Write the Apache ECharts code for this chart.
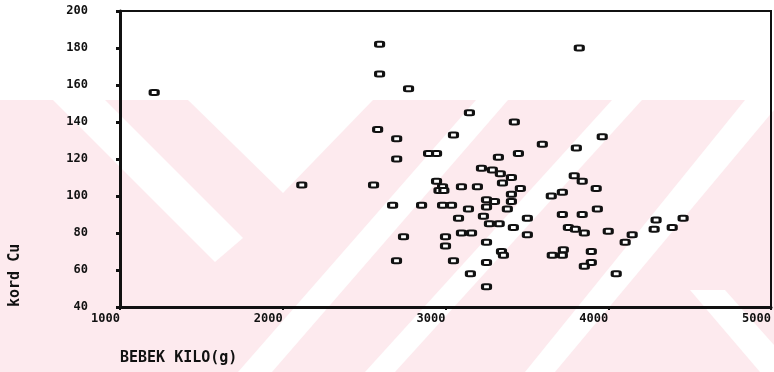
<!DOCTYPE html>
<html>
<head>
<meta charset="utf-8">
<script src="https://cdn.jsdelivr.net/npm/echarts@6/dist/echarts.min.js"></script>
<style>
  html, body { margin: 0; padding: 0; background: #fff; }
  #main { width: 774px; height: 372px; }
</style>
</head>
<body>
<div id="main"></div>
<script>
// bebek kilosu (g) ve kord Cu degerleri
var kilo = [1210, 2117, 2558, 2595, 2595, 2583, 2700, 2700, 2773, 3147,
    3423, 3049, 2896, 2945, 3325, 3448, 3595, 3804, 3963, 3822,
    3221, 3288, 3337, 3405, 3350, 2945, 2982, 2960, 2990, 3098,
    3196, 3460, 2675, 2853, 2982, 3037, 3141, 3252, 3301, 3252,
    3405, 3405, 3380, 3233, 3080, 3270, 3330, 3503, 3417, 3503,
    2742, 3000, 3098, 3160, 3000, 3252, 3344, 3356, 2699, 3049,
    3252, 3153, 3252, 3650, 3718, 3718, 3840, 3933, 3755, 3798,
    3853, 4000, 4147, 4104, 4294, 4282, 4393, 4460, 3656, 3724,
    3718, 3896, 3896, 3853, 4049, 3791, 3840, 3926];
var kordCu = [156, 106, 106, 182, 166, 136, 131, 120, 158, 145,
    140, 133, 123, 123, 121, 123, 128, 126, 132, 180,
    115, 114, 112, 110, 107, 108, 105, 103, 103, 105,
    105, 104, 95, 95, 95, 95, 93, 98, 97, 94,
    101, 97, 93, 89, 88, 85, 85, 88, 83, 79,
    78, 78, 80, 80, 73, 75, 70, 68, 65, 65,
    64, 58, 51, 100, 102, 90, 90, 93, 83, 82,
    80, 81, 79, 75, 87, 82, 83, 88, 68, 71,
    68, 70, 64, 62, 58, 111, 108, 104];
var xTicks = [1000, 5000, 1000]; // min, max, aralik
var yTicks = [40, 200, 20];

var noktalar = [];
for (var i = 0; i < kilo.length; i++) {
    noktalar.push([kilo[i], kordCu[i]]);
}

var pembe = '#fdeaee';
var font = 'DejaVu Sans Mono';

var myChart = echarts.init(document.getElementById('main'));
var option = {
    backgroundColor: '#fff',
    animation: false,
    // arkadaki soluk filigran
    graphic: [
        { type: 'rect', z: -10, silent: true, shape: { x: 0, y: 100, width: 774, height: 272 }, style: { fill: pembe } },
        { type: 'polygon', z: -9, silent: true, shape: { points: [[53, 100], [105, 100], [243, 238], [215, 262]] }, style: { fill: '#fff' } },
        { type: 'polygon', z: -9, silent: true, shape: { points: [[188, 100], [373, 100], [283, 193]] }, style: { fill: '#fff' } },
        { type: 'polygon', z: -9, silent: true, shape: { points: [[476, 100], [508, 100], [272, 372], [238, 372]] }, style: { fill: '#fff' } },
        { type: 'polygon', z: -9, silent: true, shape: { points: [[612, 100], [642, 100], [395, 372], [365, 372]] }, style: { fill: '#fff' } },
        { type: 'polygon', z: -9, silent: true, shape: { points: [[745, 100], [774, 100], [774, 110], [555, 372], [525, 372]] }, style: { fill: '#fff' } },
        { type: 'polygon', z: -9, silent: true, shape: { points: [[690, 290], [725, 290], [774, 345], [774, 372], [760, 372]] }, style: { fill: '#fff' } }
    ],
    grid: {
        left: 120, right: 3, top: 11, bottom: 65,
        show: true, borderColor: '#111', borderWidth: 2, backgroundColor: 'transparent'
    },
    xAxis: {
        type: 'value',
        min: xTicks[0], max: xTicks[1], interval: xTicks[2],
        name: 'BEBEK KILO(g)',
        nameLocation: 'start',
        nameGap: 0,
        nameTextStyle: {
            fontFamily: font, fontWeight: 'bold', fontSize: 15, color: '#111',
            align: 'left', verticalAlign: 'top', padding: [44, 0, 0, 0]
        },
        axisLine: { show: true, lineStyle: { color: '#111', width: 3 } },
        axisTick: { show: true, length: 3, lineStyle: { color: '#111', width: 2 } },
        splitLine: { show: false },
        axisLabel: {
            fontFamily: font, fontWeight: 'bold', fontSize: 12, color: '#111',
            align: 'right', margin: 6,
            formatter: function (v) { return String(v); }
        }
    },
    yAxis: {
        type: 'value',
        min: yTicks[0], max: yTicks[1], interval: yTicks[2],
        name: 'kord Cu',
        nameLocation: 'start',
        nameGap: 0,
        nameRotate: 90,
        nameTextStyle: {
            fontFamily: font, fontWeight: 'bold', fontSize: 15, color: '#111',
            align: 'left', verticalAlign: 'bottom', padding: [0, 0, 97, 0]
        },
        axisLine: { show: true, lineStyle: { color: '#111', width: 3 } },
        axisTick: { show: true, length: 4, lineStyle: { color: '#111', width: 3 } },
        splitLine: { show: false },
        axisLabel: {
            fontFamily: font, fontWeight: 'bold', fontSize: 12, color: '#111',
            margin: 32
        }
    },
    series: [{
        type: 'scatter',
        data: noktalar,
        symbol: 'roundRect',
        symbolSize: [8, 5],
        itemStyle: { color: '#fff', borderColor: '#111', borderWidth: 2.5, opacity: 1 }
    }]
};
myChart.setOption(option);
</script>
</body>
</html>
